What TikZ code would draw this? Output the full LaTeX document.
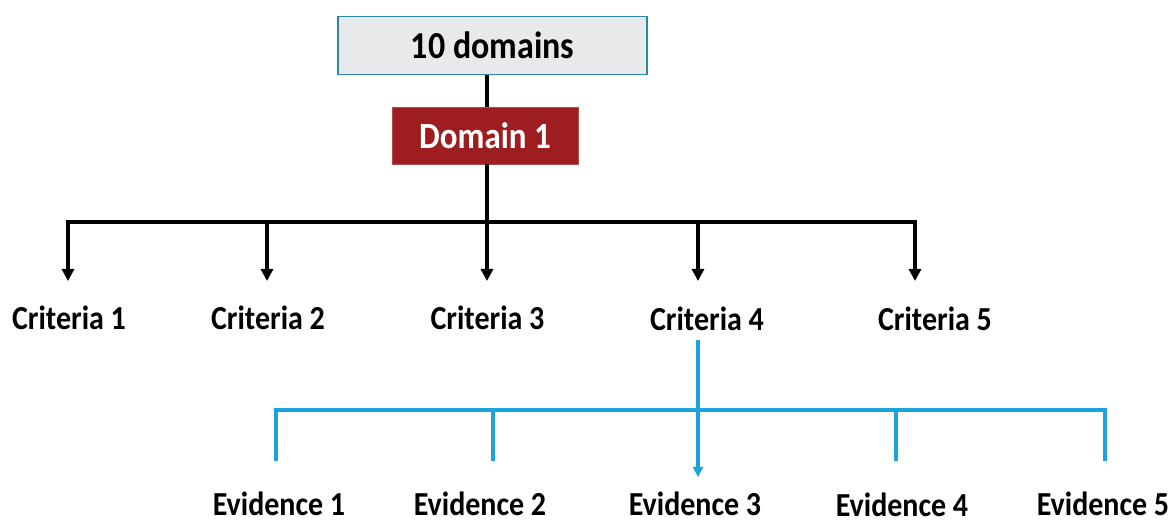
\documentclass[tikz,border=0pt]{standalone}
\usepackage{fontspec}
\usepackage{graphicx}
\setmainfont{Carlito}
\usetikzlibrary{arrows.meta}
\definecolor{boxgray}{HTML}{E8E9EB}
\definecolor{boxedge}{HTML}{2A87A8}
\definecolor{domred}{HTML}{9E1D20}
\definecolor{evblue}{HTML}{1BA3DD}
% labels are set slightly taller than the natural face
\newcommand{\tallbold}[1]{\scalebox{1}[1.12]{#1}}
\tikzset{
  lbl/.style={font=\fontsize{30}{30}\selectfont\bfseries, inner sep=0pt, anchor=base},
  blk/.style={line width=3.5pt, black},
  blu/.style={line width=3.2pt, evblue},
  blktip/.style={-{Triangle[width=12pt,length=12pt]}},
  blutip/.style={-{Triangle[width=10pt,length=10pt]}},
}
\begin{document}
\begin{tikzpicture}[x=1pt,y=-1pt]
\useasboundingbox (0,0) rectangle (1171,526);
% header boxes
\node[draw=boxedge, line width=1.6pt, fill=boxgray, minimum width=309pt, minimum height=58pt,
      font=\fontsize{34}{34}\selectfont\bfseries, inner sep=0pt] (top) at (492.5,45.5) {\tallbold{10 domains}};
\node[fill=domred, draw=domred!80!white, minimum width=186pt, minimum height=57pt, text=white,
      font=\fontsize{33}{33}\selectfont\bfseries, inner sep=0pt] (dom) at (485,135.5) {\tallbold{Domain 1}};
% criteria labels
\node[lbl] (c1) at (69,330) {\tallbold{Criteria 1}};
\node[lbl] (c2) at (268,330) {\tallbold{Criteria 2}};
\node[lbl] (c3) at (487.5,330) {\tallbold{Criteria 3}};
\node[lbl] (c4) at (707,331) {\tallbold{Criteria 4}};
\node[lbl] (c5) at (935,331) {\tallbold{Criteria 5}};
% evidence labels
\node[lbl] (e1) at (279,516) {\tallbold{Evidence 1}};
\node[lbl] (e2) at (480,516) {\tallbold{Evidence 2}};
\node[lbl] (e3) at (695,516) {\tallbold{Evidence 3}};
\node[lbl] (e4) at (902,517) {\tallbold{Evidence 4}};
\node[lbl] (e5) at (1103,516) {\tallbold{Evidence 5}};
% spine and bus of the black tree
\coordinate (sp) at (487,0);
\coordinate (bl) at (66.25,222);
\coordinate (br) at (916.75,222);
\coordinate (bm) at (487,222);
\coordinate (b1) at (68,222);
\coordinate (b2) at (267,222);
\coordinate (b4) at (698,222);
\coordinate (b5) at (915,222);
\coordinate (t1) at (68,281);
\coordinate (t2) at (267,281);
\coordinate (t3) at (487,281);
\coordinate (t4) at (698,281);
\coordinate (t5) at (915,281);
% black tree
\draw[blk] (top.south -| sp) -- (dom.north -| sp);
\draw[blk] (dom.south -| sp) -- (bm);
\draw[blk] (bl) -- (br);
\draw[blk, blktip] (b1) -- (t1);
\draw[blk, blktip] (b2) -- (t2);
\draw[blk, blktip] (bm) -- (t3);
\draw[blk, blktip] (b4) -- (t4);
\draw[blk, blktip] (b5) -- (t5);
% blue tree
\coordinate (s4) at (698,340);
\coordinate (ul) at (276,410);
\coordinate (ur) at (1105,410);
\coordinate (u2) at (493,410);
\coordinate (u4) at (896,410);
\coordinate (v1) at (276,461);
\coordinate (v2) at (493,461);
\coordinate (v3) at (698,477);
\coordinate (v4) at (896,461);
\coordinate (v5) at (1105,461);
\draw[blu] (v1) -- (ul) -- (ur) -- (v5);
\draw[blu] (u2) -- (v2);
\draw[blu] (u4) -- (v4);
\draw[blu, blutip] (s4) -- (v3);
\end{tikzpicture}
\end{document}
